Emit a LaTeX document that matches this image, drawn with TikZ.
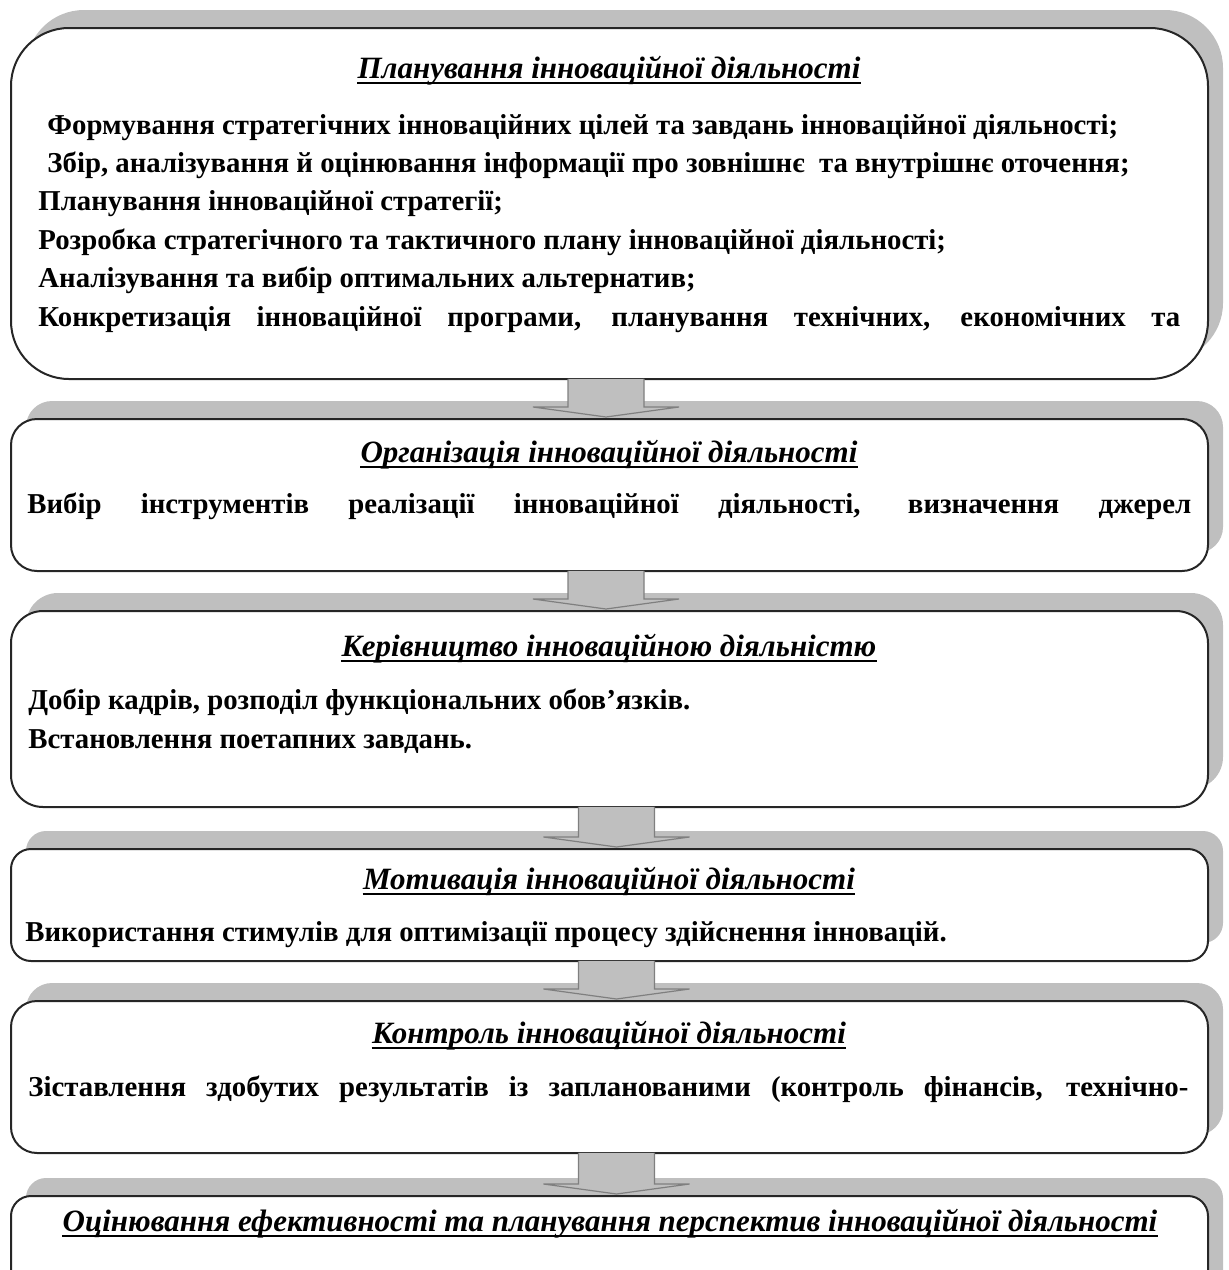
\documentclass[tikz,border=0pt]{standalone}
\usepackage{fontspec}
\setmainfont{Liberation Serif}
\usetikzlibrary{calc,shadows}

\definecolor{shadowgray}{HTML}{BFBFBF}
\definecolor{edgegray}{HTML}{7F7F7F}

\begin{document}
\begin{tikzpicture}[x=0.5pt,y=-0.5pt,
    stage/.style={draw=black!85, line width=1pt, fill=white, anchor=north west,
      minimum width=598.5pt, inner sep=0pt,
      drop shadow={shadow xshift=7.5pt, shadow yshift=9pt, fill=shadowgray, opacity=1}},
    heading/.style={font=\fontsize{15.5}{17}\selectfont\bfseries\itshape, inner sep=0pt, anchor=base},
    item/.style={font=\fontsize{14.4}{16}\selectfont\bfseries, inner sep=0pt, anchor=base west},
    uline/.style={line width=0.9pt, black},
    flow/.style={fill=shadowgray, draw=edgegray, line width=0.6pt}]
  \useasboundingbox (0,0) rectangle (1229,1270);
  \clip (0,0) rectangle (1229,1270);

  % stages
  \node[stage, minimum height=175.5pt, rounded corners=29pt] (plan) at (10,27) {};
  \node[stage, minimum height=76pt, rounded corners=13pt] (org) at (10,418) {};
  \node[stage, minimum height=98pt, rounded corners=16pt] (lead) at (10,610) {};
  \node[stage, minimum height=56pt, rounded corners=10pt] (motiv) at (10,848) {};
  \node[stage, minimum height=76pt, rounded corners=13pt] (ctrl) at (10,1000) {};
  \node[stage, minimum height=60pt, rounded corners=10pt] (eval) at (10,1195) {};

  % arrows between stages
  \foreach \a/\b/\dx in {plan/org/-1.75, org/lead/-1.75, lead/motiv/3.5, motiv/ctrl/3.5, ctrl/eval/3.5}{
    \coordinate (s) at ($(\a.south)+(\dx pt,0.6pt)$);
    \coordinate (e) at ($(\b.north)+(\dx pt,0.5pt)$);
    \filldraw[flow] ($(s)+(-19pt,0)$) -- ($(e)+(-19pt,5pt)$) -- ($(e)+(-36.5pt,5pt)$) -- (e)
      -- ($(e)+(36.5pt,5pt)$) -- ($(e)+(19pt,5pt)$) -- ($(s)+(19pt,0)$);
  }

  % planning
  \node[heading] (plan-t) at (609,78) {Планування інноваційної діяльності};
  \node[item] (plan-1) at (47,134) {Формування стратегічних інноваційних цілей та завдань інноваційної діяльності;};
  \node[item] (plan-2) at (47,172) {Збір, аналізування й оцінювання інформації про зовнішнє\ \ та внутрішнє оточення;};
  \node[item] (plan-3) at (38,210) {Планування інноваційної стратегії;};
  \node[item] (plan-4) at (38,249) {Розробка стратегічного та тактичного плану інноваційної діяльності;};
  \node[item] (plan-5) at (38,287) {Аналізування та вибір оптимальних альтернатив;};
  \node[item] (plan-6) at (38,326) {\makebox[571pt][s]{Конкретизація інноваційної програми, планування технічних, економічних та}};

  % organisation
  \node[heading] (org-t) at (609,462) {Організація інноваційної діяльності};
  \node[item] (org-1) at (27,513) {\makebox[582pt][s]{Вибір інструментів реалізації інноваційної діяльності, визначення джерел}};

  % leadership
  \node[heading] (lead-t) at (609,656) {Керівництво інноваційною діяльністю};
  \node[item] (lead-1) at (28,709) {Добір кадрів, розподіл функціональних обов’язків.};
  \node[item] (lead-2) at (28,748) {Встановлення поетапних завдань.};

  % motivation
  \node[heading] (motiv-t) at (609,889) {Мотивація інноваційної діяльності};
  \node[item] (motiv-1) at (25,941) {Використання стимулів для оптимізації процесу здійснення інновацій.};

  % control
  \node[heading] (ctrl-t) at (609,1043) {Контроль інноваційної діяльності};
  \node[item] (ctrl-1) at (28,1096) {\makebox[580pt][s]{Зіставлення здобутих результатів із запланованими (контроль фінансів, технічно-}};

  % evaluation
  \node[heading] (eval-t) at (610,1231) {Оцінювання ефективності та планування перспектив інноваційної діяльності};

  \foreach \t in {plan-t, org-t, lead-t, motiv-t, ctrl-t, eval-t}
    \draw[uline] ([yshift=-2.5pt]\t.base west) -- ([yshift=-2.5pt]\t.base east);
\end{tikzpicture}
\end{document}
